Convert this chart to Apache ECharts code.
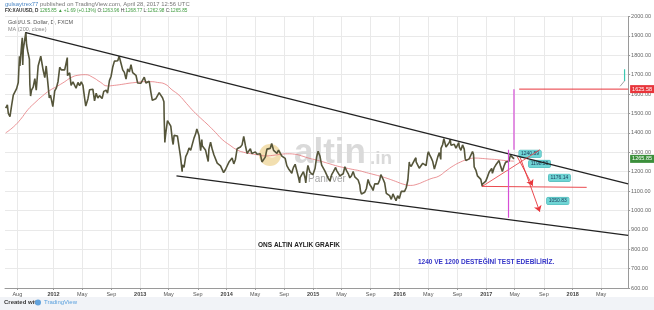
<!DOCTYPE html>
<html><head><meta charset="utf-8">
<script src="https://cdn.jsdelivr.net/npm/echarts@6/dist/echarts.min.js"></script>
<style>html,body{margin:0;padding:0;background:#fff}#c{width:654px;height:310px}</style>
</head><body><div id="c"></div>
<script>
// ---- price (FX:XAUUSD, daily, sampled) ----
const priceDates = [
'2011-06-13','2011-06-20','2011-06-24','2011-07-01','2011-07-08','2011-07-15','2011-07-22','2011-07-29','2011-08-05','2011-08-10','2011-08-12','2011-08-19','2011-08-22','2011-08-24','2011-08-26','2011-08-31','2011-09-06','2011-09-09','2011-09-14','2011-09-21','2011-09-23','2011-09-26','2011-09-30','2011-10-07','2011-10-14','2011-10-20','2011-10-28','2011-11-04','2011-11-08','2011-11-18','2011-11-25','2011-12-01','2011-12-07','2011-12-14','2011-12-19','2011-12-29',
'2012-01-06','2012-01-13','2012-01-20','2012-01-27','2012-02-03','2012-02-10','2012-02-17','2012-02-28','2012-02-29','2012-03-09','2012-03-15','2012-03-23','2012-03-30','2012-04-05','2012-04-13','2012-04-20','2012-04-27','2012-05-04','2012-05-11','2012-05-16','2012-05-25','2012-06-01','2012-06-06','2012-06-15','2012-06-22','2012-06-29','2012-07-06','2012-07-13','2012-07-24','2012-07-31','2012-08-10','2012-08-16','2012-08-24','2012-08-31','2012-09-07','2012-09-14','2012-09-21','2012-09-28','2012-10-04','2012-10-12','2012-10-19','2012-10-26','2012-11-02','2012-11-09','2012-11-16','2012-11-23','2012-11-30','2012-12-07','2012-12-14','2012-12-21','2012-12-28',
'2013-01-04','2013-01-11','2013-01-18','2013-01-25','2013-02-01','2013-02-08','2013-02-15','2013-02-21','2013-03-01','2013-03-08','2013-03-15','2013-03-22','2013-03-28','2013-04-05','2013-04-11','2013-04-12','2013-04-15','2013-04-16','2013-04-19','2013-04-26','2013-05-03','2013-05-10','2013-05-17','2013-05-20','2013-05-24','2013-05-31','2013-06-07','2013-06-14','2013-06-20','2013-06-27','2013-06-28','2013-07-05','2013-07-12','2013-07-19','2013-07-26','2013-08-02','2013-08-09','2013-08-16','2013-08-23','2013-08-28','2013-09-06','2013-09-13','2013-09-18','2013-09-20','2013-09-27','2013-10-04','2013-10-11','2013-10-15','2013-10-18','2013-10-25','2013-11-01','2013-11-08','2013-11-15','2013-11-22','2013-11-29','2013-12-06','2013-12-13','2013-12-19','2013-12-27','2013-12-31',
'2014-01-10','2014-01-17','2014-01-24','2014-01-31','2014-02-07','2014-02-14','2014-02-21','2014-02-28','2014-03-07','2014-03-14','2014-03-17','2014-03-21','2014-03-28','2014-03-31','2014-04-04','2014-04-11','2014-04-17','2014-04-25','2014-05-02','2014-05-09','2014-05-16','2014-05-23','2014-05-30','2014-06-06','2014-06-13','2014-06-20','2014-06-27','2014-07-04','2014-07-10','2014-07-18','2014-07-25','2014-08-01','2014-08-08','2014-08-15','2014-08-22','2014-08-29','2014-09-05','2014-09-12','2014-09-19','2014-09-26','2014-10-03','2014-10-06','2014-10-10','2014-10-17','2014-10-24','2014-10-31','2014-11-05','2014-11-07','2014-11-14','2014-11-21','2014-11-28','2014-12-01','2014-12-05','2014-12-10','2014-12-12','2014-12-19','2014-12-26','2014-12-31',
'2015-01-09','2015-01-16','2015-01-22','2015-01-30','2015-02-06','2015-02-13','2015-02-20','2015-02-27','2015-03-06','2015-03-13','2015-03-17','2015-03-20','2015-03-27','2015-04-03','2015-04-06','2015-04-10','2015-04-17','2015-04-24','2015-05-01','2015-05-08','2015-05-15','2015-05-22','2015-05-29','2015-06-05','2015-06-12','2015-06-19','2015-06-26','2015-07-03','2015-07-10','2015-07-17','2015-07-20','2015-07-24','2015-07-31','2015-08-07','2015-08-14','2015-08-21','2015-08-24','2015-08-28','2015-09-04','2015-09-11','2015-09-18','2015-09-25','2015-10-02','2015-10-09','2015-10-14','2015-10-16','2015-10-23','2015-10-30','2015-11-06','2015-11-13','2015-11-20','2015-11-27','2015-12-03','2015-12-04','2015-12-11','2015-12-17','2015-12-24','2015-12-31',
'2016-01-08','2016-01-15','2016-01-22','2016-01-29','2016-02-05','2016-02-11','2016-02-12','2016-02-19','2016-02-26','2016-03-04','2016-03-10','2016-03-11','2016-03-18','2016-03-24','2016-04-01','2016-04-08','2016-04-15','2016-04-22','2016-04-29','2016-05-02','2016-05-06','2016-05-13','2016-05-20','2016-05-27','2016-05-30','2016-06-03','2016-06-10','2016-06-17','2016-06-23','2016-06-24','2016-07-01','2016-07-06','2016-07-08','2016-07-15','2016-07-22','2016-07-29','2016-08-02','2016-08-05','2016-08-12','2016-08-19','2016-08-26','2016-09-02','2016-09-07','2016-09-09','2016-09-16','2016-09-23','2016-09-30','2016-10-04','2016-10-07','2016-10-14','2016-10-21','2016-10-28','2016-11-04','2016-11-08','2016-11-09','2016-11-11','2016-11-18','2016-11-25','2016-12-02','2016-12-09','2016-12-15','2016-12-16','2016-12-23','2016-12-30',
'2017-01-06','2017-01-13','2017-01-20','2017-01-24','2017-01-27','2017-02-03','2017-02-10','2017-02-17','2017-02-24','2017-02-27','2017-03-03','2017-03-10','2017-03-14','2017-03-17','2017-03-24','2017-03-31','2017-04-07','2017-04-13','2017-04-17','2017-04-21','2017-04-28'];
const priceValues = [
1528,1545,1500,1484,1542,1595,1601,1628,1660,1795,1745,1852,1890,1750,1828,1826,1920,1856,1820,1780,1650,1590,1620,1636,1680,1620,1745,1755,1795,1724,1685,1745,1740,1580,1595,1535,
1616,1632,1665,1738,1725,1725,1725,1788,1695,1710,1645,1663,1668,1630,1660,1643,1663,1645,1580,1538,1575,1622,1620,1625,1565,1604,1580,1592,1577,1614,1620,1605,1670,1692,1740,1770,1775,1772,1795,1758,1725,1712,1677,1730,1714,1751,1711,1705,1697,1657,1657,
1656,1662,1687,1657,1667,1666,1609,1568,1576,1576,1592,1607,1596,1581,1560,1480,1350,1368,1400,1463,1468,1435,1360,1340,1387,1393,1384,1388,1277,1200,1234,1222,1278,1295,1322,1310,1313,1373,1395,1420,1387,1308,1365,1333,1338,1310,1272,1252,1316,1352,1315,1287,1288,1244,1250,1230,1235,1195,1211,1202,
1248,1254,1270,1240,1263,1318,1324,1327,1338,1382,1390,1335,1294,1284,1302,1318,1294,1301,1302,1290,1293,1292,1250,1253,1275,1316,1316,1320,1345,1310,1307,1294,1311,1305,1280,1287,1268,1231,1215,1217,1192,1207,1222,1238,1231,1171,1142,1169,1185,1200,1167,1142,1192,1232,1222,1196,1195,1184,
1216,1277,1305,1279,1234,1228,1203,1213,1165,1152,1145,1183,1199,1201,1222,1207,1203,1178,1179,1189,1225,1205,1190,1168,1179,1201,1173,1168,1157,1131,1100,1085,1094,1094,1113,1160,1168,1134,1121,1103,1137,1145,1137,1156,1185,1177,1162,1142,1088,1081,1076,1057,1047,1085,1075,1050,1076,1061,
1098,1089,1098,1117,1157,1250,1238,1227,1221,1260,1272,1250,1254,1218,1222,1243,1235,1231,1292,1303,1289,1272,1252,1213,1205,1243,1275,1298,1263,1320,1340,1370,1366,1327,1323,1351,1367,1336,1335,1341,1321,1327,1350,1328,1310,1338,1316,1268,1257,1251,1266,1276,1304,1290,1275,1225,1208,1178,1178,1160,1124,1135,1132,1151,
1173,1197,1205,1217,1191,1219,1234,1238,1257,1262,1226,1201,1198,1229,1249,1249,1254,1285,1295,1283,1266];

// ---- MA (200, close) ----
const maDates = ['2011-06-13','2011-07-15','2011-08-15','2011-09-15','2011-10-14','2011-11-15','2011-12-15','2012-01-16','2012-02-15','2012-03-15','2012-04-13','2012-05-15','2012-06-15','2012-07-16','2012-08-15','2012-09-14','2012-10-15','2012-11-15','2012-12-14','2013-01-15','2013-02-15','2013-03-15','2013-04-15','2013-05-15','2013-06-14','2013-07-15','2013-08-15','2013-09-13','2013-10-15','2013-11-15','2013-12-13','2014-01-15','2014-02-14','2014-03-14','2014-04-15','2014-05-15','2014-06-13','2014-07-15','2014-08-15','2014-09-15','2014-10-15','2014-11-14','2014-12-15','2015-01-15','2015-02-13','2015-03-13','2015-04-15','2015-05-15','2015-06-15','2015-07-15','2015-08-14','2015-09-15','2015-10-15','2015-11-13','2015-12-15','2016-01-15','2016-02-15','2016-03-15','2016-04-15','2016-05-13','2016-06-15','2016-07-15','2016-08-15','2016-09-15','2016-10-14','2016-11-15','2016-12-15','2017-01-13','2017-02-15','2017-03-15','2017-04-14','2017-04-28'];
const maValues = [1400,1430,1470,1520,1555,1590,1618,1640,1662,1685,1697,1700,1686,1662,1642,1645,1650,1656,1660,1664,1664,1660,1652,1622,1594,1552,1510,1476,1440,1402,1366,1336,1312,1300,1292,1286,1281,1284,1289,1292,1290,1281,1269,1260,1250,1240,1228,1220,1212,1205,1195,1185,1175,1164,1150,1136,1129,1135,1150,1164,1177,1204,1230,1250,1263,1270,1268,1265,1262,1258,1255,1254];

// ---- drawings ----
const upperTrend = [['2011-09-06', 1917], ['2018-08-23', 1137]];
const lowerTrend = [['2013-06-03', 1178], ['2018-08-23', 871]];
const redLevel = 1625.58, redLevelFrom = '2017-05-20';
const lastPrice = 1265.85, lastDate = '2017-04-28';
const supportRise = [['2016-12-15', 1124], ['2017-08-15', 1313]];
const supportFlat = [['2016-12-15', 1124], ['2018-03-01', 1119]];
const arrow1 = [['2017-05-12', 1277], ['2017-07-16', 1127]];
const arrow2 = [['2017-05-25', 1271], ['2017-08-15', 993]];
const magentaUpper = [['2017-04-28', 1625], ['2017-04-28', 1313]];
const magentaLower = [['2017-04-05', 1313], ['2017-04-05', 962]];
const tealMark = [['2018-08-08', 1728], ['2018-08-08', 1668]];
const grayMark = [['2018-07-20', 1640], ['2018-08-08', 1668]];
const callouts = [['2017-07-05', 1292, '1240.59'], ['2017-08-14', 1240, '1198.59'], ['2017-11-06', 1168, '1176.14'], ['2017-10-30', 1049, '1050.83']];
const xTickDates = ['2011-08-01','2012-01-01','2012-05-01','2012-09-01','2013-01-01','2013-05-01','2013-09-01','2014-01-01','2014-05-01','2014-09-01','2015-01-01','2015-05-01','2015-09-01','2016-01-01','2016-05-01','2016-09-01','2017-01-01','2017-05-01','2017-09-01','2018-01-01','2018-05-01'];
const xRange = ['2011-06-10', '2018-08-23'];
const monthNames = ['Jan','Feb','Mar','Apr','May','Jun','Jul','Aug','Sep','Oct','Nov','Dec'];

const T = s => Date.parse(s + 'T00:00:00Z');
const price = priceDates.map((d, i) => [T(d), priceValues[i]]);
const ma = maDates.map((d, i) => [T(d), maValues[i]]);
const pts = p => p.map(q => [T(q[0]), q[1]]);
const drawLine = (name, p, color, width, extra) => Object.assign({
  name: name, type: 'line', data: pts(p), showSymbol: false, symbol: 'none', silent: true, z: 5,
  lineStyle: { color: color, width: width }, itemStyle: { color: color }
}, extra || {});
const tagLabel = (value, bg) => ({ show: true, formatter: value.toFixed(2), color: '#fff', backgroundColor: bg, fontSize: 5.5, padding: [1, 2], distance: 2 });
const arrowSeg = (p, color, width) => {
  const ls = { color: color, width: width, type: 'solid', opacity: 1 };
  return [
    { coord: [T(p[0][0]), p[0][1]], symbol: 'none', lineStyle: ls },
    { coord: [T(p[1][0]), p[1][1]], symbol: 'arrow', symbolSize: 6, lineStyle: ls, itemStyle: { color: color } }
  ];
};
const xTicks = xTickDates.map(T);

const FONT = '"Liberation Sans", Arial, sans-serif';

const chart = echarts.init(document.getElementById('c'), null, { renderer: 'canvas' });
chart.setOption({
  animation: false,
  backgroundColor: '#ffffff',
  textStyle: { fontFamily: FONT },
  grid: { left: 5, right: 20, top: 16.5, bottom: 22, show: false },
  xAxis: {
    type: 'value', min: T(xRange[0]), max: T(xRange[1]), scale: true,
    axisLine: { show: true, onZero: false, lineStyle: { color: '#9a9a9a', width: 1 } },
    axisTick: { show: true, customValues: xTicks, length: 2, lineStyle: { color: '#9a9a9a' } },
    axisLabel: {
      customValues: xTicks, fontSize: 5.5, color: '#555', margin: 3, hideOverlap: false,
      formatter: function (v) {
        const d = new Date(v + 12 * 3600 * 1000);
        const m = d.getUTCMonth();
        if (m === 0) return '{y|' + d.getUTCFullYear() + '}';
        return monthNames[m];
      },
      rich: { y: { fontSize: 5.5, fontWeight: 'bold', color: '#444' } }
    },
    splitLine: { show: true, lineStyle: { color: '#e9e9e9', width: 1 } }
  },
  yAxis: {
    type: 'value', position: 'right', min: 600, max: 2000, interval: 100,
    axisLine: { show: true, lineStyle: { color: '#9a9a9a' } },
    axisTick: { show: true, length: 2, lineStyle: { color: '#9a9a9a' } },
    axisLabel: { fontSize: 5.5, color: '#666', margin: 3, formatter: v => v.toFixed(2) },
    splitLine: { show: true, lineStyle: { color: '#e9e9e9', width: 1 } }
  },
  series: [
    { name: 'MA', type: 'line', data: ma, showSymbol: false, smooth: true, lineStyle: { color: '#e5797c', width: 0.8 }, z: 3 },
    { name: 'Gold', type: 'line', data: price, showSymbol: false, lineStyle: { color: '#55553a', width: 1.6 }, z: 4 },
    drawLine('upperTrend', upperTrend, '#222222', 1.2),
    drawLine('lowerTrend', lowerTrend, '#222222', 1.2),
    drawLine('supportRise', supportRise, '#e8353b', 0.8),
    drawLine('supportFlat', supportFlat, '#e8353b', 0.9),
    drawLine('magentaUpper', magentaUpper, '#d64fd6', 1.2),
    drawLine('magentaLower', magentaLower, '#d64fd6', 1.2),
    drawLine('tealMark', tealMark, '#3cc7b0', 1.2),
    drawLine('grayMark', grayMark, '#8a8a8a', 0.8),
    drawLine('redLevel', [[redLevelFrom, redLevel], [xRange[1], redLevel]], '#e8353b', 1, { endLabel: tagLabel(redLevel, '#e8353b') }),
    drawLine('lastPrice', [[lastDate, lastPrice], [xRange[1], lastPrice]], '#3b8f3b', 0.5, { lineStyle: { color: '#3b8f3b', width: 0.5, opacity: 0 }, endLabel: tagLabel(lastPrice, '#3b8f3b') }),
    { name: 'arrows', type: 'line', data: [], z: 6, silent: true,
      markLine: {
        silent: true, symbol: 'none', animation: false, label: { show: false },
        data: [arrowSeg(arrow1, '#e8353b', 0.9), arrowSeg(arrow2, '#e8353b', 0.9)]
      },
      markPoint: {
        silent: true, symbol: 'rect', symbolSize: 0, animation: false,
        label: { show: true, color: '#1b3b5a', fontSize: 5, backgroundColor: '#6fd5d5', borderColor: '#3fb0b0', borderWidth: 0.5, borderRadius: 1, padding: [1, 2] },
        data: callouts.map(c => ({ coord: [T(c[0]), c[1]], label: { formatter: c[2] } }))
      }
    }
  ],
  graphic: [
    { type: 'rect', left: 0, top: 297, shape: { width: 654, height: 13 }, style: { fill: '#f1f3f7' }, z: 0 },
    { type: 'text', left: 4, top: 299.5, style: { text: 'Created with', fontSize: 6, fontWeight: 'bold', fill: '#3a3a3a', fontFamily: FONT } },
    { type: 'circle', shape: { cx: 38, cy: 302.5, r: 3 }, style: { fill: '#62a3dd' } },
    { type: 'text', left: 44, top: 299.5, style: { text: 'TradingView', fontSize: 6, fill: '#5aa0dd', fontFamily: FONT } },
    { type: 'text', left: 5, top: 1.5, style: { text: '{u|gulsaytrex77} published on TradingView.com, April 28, 2017 12:56 UTC', fontSize: 5.9, fill: '#777', fontFamily: FONT, rich: { u: { fill: '#4a86c5', fontSize: 5.9 } } } },
    { type: 'text', left: 5, top: 8.5, style: { text: '{b|FX:XAUUSD, D} {g|1265.85 ▲ +1.69 (+0.13%)} O:{g|1263.96} H:{g|1268.77} L:{g|1262.98} C:{g|1265.85}', fontSize: 4.7, fill: '#444', fontFamily: FONT, rich: { b: { fontWeight: 'bold', fill: '#333', fontSize: 4.7 }, g: { fill: '#3f9b3f', fontSize: 4.7 } } } },
    { type: 'text', left: 8, top: 19.5, style: { text: 'Gold/U.S. Dollar, D, FXCM', fontSize: 5.5, fill: '#555', fontFamily: FONT } },
    { type: 'text', left: 8, top: 26.5, style: { text: 'MA (200, close)', fontSize: 5.5, fill: '#888', fontFamily: FONT } },
    { type: 'circle', shape: { cx: 270, cy: 155, r: 11 }, style: { fill: '#f0d9a2', opacity: 0.85 }, z: 1 },
    { type: 'circle', shape: { cx: 272, cy: 153, r: 5 }, style: { fill: '#fbf1dc', opacity: 0.9 }, z: 1 },
    { type: 'text', left: 294, top: 136, style: { text: 'altin', fontSize: 35, fontWeight: 'bold', fill: '#dadada', fontFamily: FONT }, z: 1 },
    { type: 'text', left: 370, top: 149, style: { text: '.in', fontSize: 19, fontWeight: 'bold', fill: '#dadada', fontFamily: FONT }, z: 1 },
    { type: 'text', left: 308, top: 174, style: { text: 'Panrıver', fontSize: 10, fill: '#8a8a8a', opacity: 0.75, fontFamily: FONT }, z: 1 },
    { type: 'text', left: 258, top: 242, style: { text: 'ONS ALTIN AYLIK GRAFIK', fontSize: 6.5, fontWeight: 'bold', fill: '#222', fontFamily: FONT }, z: 6 },
    { type: 'text', left: 418, top: 259, style: { text: '1240 VE 1200 DESTEĞİNİ TEST EDEBİLİRİZ.', fontSize: 6.5, fontWeight: 'bold', fill: '#3535c8', fontFamily: FONT }, z: 6 }
  ]
});
</script>
</body></html>
